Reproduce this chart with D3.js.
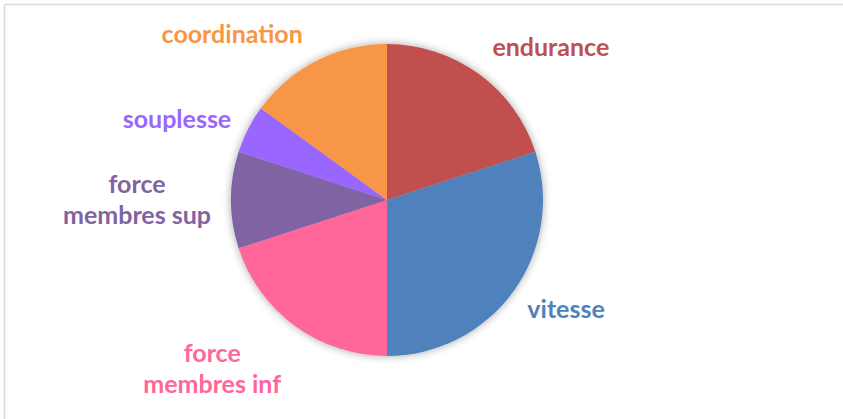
<!DOCTYPE html>
<html lang="fr">
<head>
    <meta charset="UTF-8">
    <title>Qualités physiques</title>
    <script src="https://d3js.org/d3.v7.min.js"></script>
    <style>
        body {
            margin: 0;
            padding: 0;
            background-color: #fff;
        }

        #chart {
            display: block;
        }

        .slice-label {
            font-family: Lato, "Open Sans", sans-serif;
            font-weight: bold;
            font-size: 25px;
        }
    </style>
</head>
<body>
<svg id="chart"></svg>

<script>
    // Data (percent of the whole)
    const categories = ['endurance', 'vitesse', 'force membres inf', 'force membres sup', 'souplesse', 'coordination'];
    const values = [20, 30, 20, 10, 5, 15];
    const colors = ['#C0504D', '#4F81BD', '#FF6699', '#8064A2', '#9966FF', '#F79646'];
    // label text split over lines, as in the original
    const labelLines = [['endurance'], ['vitesse'], ['force', 'membres inf'], ['force', 'membres sup'], ['souplesse'], ['coordination']];
    // label placement: angle (degrees, clockwise from top) and distance from pie centre
    const labelAngle = [47, 121.5, 226, 270, 291, 317];
    const labelDist = [224, 210, 243, 250, 225, 227];

    const data = categories.map((c, i) => ({ name: c, value: values[i], color: colors[i], lines: labelLines[i] }));

    // Set up the chart dimensions
    const width = 843;
    const height = 419;
    const cx = 387;
    const cy = 200;
    const radius = 156;

    const svg = d3.select('#chart')
        .attr('width', width)
        .attr('height', height);

    // Frame (only top and left edges are visible in the crop)
    svg.append('line')
        .attr('x1', 4.5).attr('y1', 4.5)
        .attr('x2', width).attr('y2', 4.5)
        .attr('stroke', '#d9d9d9')
        .attr('stroke-width', 1.5);
    svg.append('line')
        .attr('x1', 4.5).attr('y1', 4.5)
        .attr('x2', 4.5).attr('y2', height)
        .attr('stroke', '#d9d9d9')
        .attr('stroke-width', 1.5);

    // Soft shadow around the pie
    const defs = svg.append('defs');
    const filter = defs.append('filter')
        .attr('id', 'shadow')
        .attr('x', '-20%').attr('y', '-20%')
        .attr('width', '140%').attr('height', '140%');
    filter.append('feDropShadow')
        .attr('dx', 0)
        .attr('dy', 0)
        .attr('stdDeviation', 4)
        .attr('flood-color', '#000')
        .attr('flood-opacity', 0.35);

    const chart = svg.append('g')
        .attr('transform', `translate(${cx},${cy})`);

    const pie = d3.pie()
        .sort(null)
        .value(d => d.value);

    const arc = d3.arc()
        .innerRadius(0)
        .outerRadius(radius);

    const arcs = pie(data);

    chart.append('g')
        .attr('filter', 'url(#shadow)')
        .selectAll('path')
        .data(arcs)
        .join('path')
        .attr('d', arc)
        .attr('fill', d => d.data.color);

    // Labels
    const lineHeight = 31;
    const labels = chart.selectAll('text.slice-label')
        .data(arcs)
        .join('text')
        .attr('class', 'slice-label')
        .attr('text-anchor', 'middle')
        .attr('fill', d => d.data.color)
        .attr('transform', (d, i) => {
            const a = labelAngle[i] * Math.PI / 180;
            const x = Math.sin(a) * labelDist[i];
            const y = -Math.cos(a) * labelDist[i];
            return `translate(${x},${y})`;
        });

    labels.each(function (d) {
        const n = d.data.lines.length;
        d3.select(this).selectAll('tspan')
            .data(d.data.lines)
            .join('tspan')
            .attr('x', 0)
            .attr('y', (l, j) => (j - (n - 1) / 2) * lineHeight)
            .attr('dy', '0.35em')
            .text(l => l);
    });
</script>
</body>
</html>
